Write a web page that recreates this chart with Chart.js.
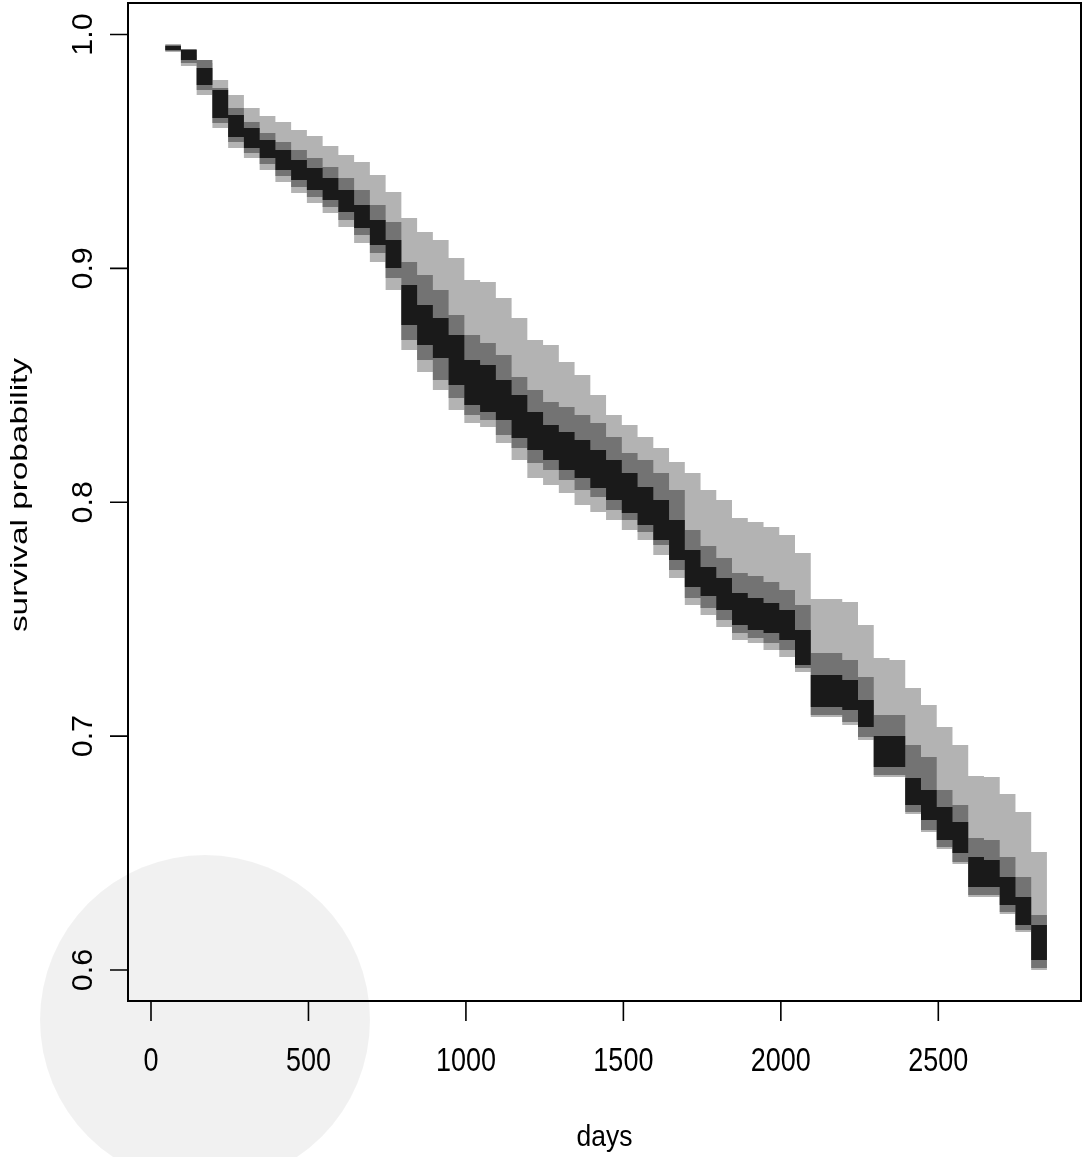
<!DOCTYPE html>
<html><head><meta charset="utf-8">
<script src="https://cdn.jsdelivr.net/npm/chart.js@4.4.0/dist/chart.umd.min.js"></script>
<style>html,body{margin:0;padding:0;background:#fff;}canvas{display:block;}</style>
</head><body>
<canvas id="c" width="1083" height="1157" style="width:1083px;height:1157px"></canvas>
<script>
// ---- data ----
const days = [45,95,145,195,245,295,345,395,445,495,545,595,645,695,745,795,845,895,945,995,
  1045,1095,1145,1195,1245,1295,1345,1395,1445,1495,1545,1595,1645,1695,1745,1795,1845,1895,1945,1995,
  2045,2095,2145,2195,2245,2295,2345,2395,2445,2495,2545,2595,2645,2695,2745,2795,2845];
const outerUpper = [0.9959,0.9912,0.9878,0.9805,0.9741,0.9686,0.9652,0.9626,0.9592,0.9566,0.9523,0.9485,0.9455,0.9399,0.9327,0.9215,0.9156,0.9121,0.9044,0.8950,
  0.8942,0.8873,0.8788,0.8694,0.8672,0.8600,0.8544,0.8459,0.8373,0.8330,0.8279,0.8232,0.8172,0.8125,0.8052,0.8010,0.7933,0.7916,0.7894,0.7860,
  0.7783,0.7586,0.7586,0.7574,0.7475,0.7334,0.7325,0.7206,0.7133,0.7039,0.6962,0.6830,0.6825,0.6753,0.6676,0.6505,0.5923];
const middleUpper = [0.9955,0.9938,0.9891,0.9771,0.9686,0.9626,0.9579,0.9540,0.9506,0.9472,0.9433,0.9386,0.9335,0.9271,0.9198,0.9027,0.8972,0.8908,0.8801,0.8715,
  0.8681,0.8630,0.8536,0.8480,0.8429,0.8407,0.8373,0.8339,0.8279,0.8211,0.8181,0.8125,0.8052,0.7881,0.7813,0.7762,0.7698,0.7685,0.7659,0.7625,
  0.7561,0.7355,0.7355,0.7325,0.7253,0.7090,0.7090,0.6962,0.6911,0.6770,0.6706,0.6564,0.6556,0.6483,0.6398,0.6235,0.5923];
const innerUpper = [0.9951,0.9934,0.9857,0.9763,0.9656,0.9600,0.9549,0.9506,0.9463,0.9429,0.9386,0.9335,0.9271,0.9207,0.9121,0.8929,0.8843,0.8788,0.8715,0.8608,
  0.8587,0.8523,0.8459,0.8386,0.8330,0.8300,0.8266,0.8223,0.8181,0.8125,0.8065,0.8010,0.7924,0.7796,0.7723,0.7676,0.7612,0.7591,0.7569,0.7539,
  0.7454,0.7261,0.7261,0.7240,0.7154,0.7001,0.7001,0.6821,0.6770,0.6697,0.6633,0.6483,0.6470,0.6398,0.6312,0.6192,0.5923];
const innerLower = [0.9934,0.9891,0.9784,0.9643,0.9562,0.9515,0.9472,0.9421,0.9378,0.9335,0.9292,0.9241,0.9173,0.9100,0.9002,0.8758,0.8672,0.8617,0.8501,0.8416,
  0.8386,0.8352,0.8275,0.8223,0.8181,0.8138,0.8104,0.8061,0.8010,0.7954,0.7903,0.7839,0.7753,0.7638,0.7599,0.7539,0.7475,0.7454,0.7441,0.7411,
  0.7304,0.7125,0.7125,0.7112,0.7039,0.6868,0.6868,0.6706,0.6641,0.6556,0.6500,0.6355,0.6355,0.6278,0.6192,0.6043,0.5923];
const middleLower = [0.9929,0.9878,0.9763,0.9622,0.9540,0.9493,0.9446,0.9395,0.9348,0.9305,0.9262,0.9207,0.9143,0.9066,0.8959,0.8694,0.8608,0.8523,0.8446,0.8373,
  0.8352,0.8288,0.8232,0.8168,0.8138,0.8095,0.8052,0.8022,0.7967,0.7924,0.7873,0.7817,0.7710,0.7591,0.7548,0.7497,0.7441,0.7420,0.7398,0.7368,
  0.7291,0.7090,0.7090,0.7060,0.6996,0.6834,0.6834,0.6676,0.6599,0.6526,0.6462,0.6321,0.6321,0.6248,0.6171,0.6009,0.5923];
const outerLower = [0.9925,0.9865,0.9741,0.9600,0.9515,0.9472,0.9421,0.9369,0.9322,0.9280,0.9237,0.9177,0.9109,0.9027,0.8908,0.8651,0.8557,0.8480,0.8394,0.8339,
  0.8322,0.8253,0.8181,0.8104,0.8074,0.8040,0.7988,0.7958,0.7924,0.7881,0.7839,0.7774,0.7676,0.7561,0.7518,0.7467,0.7411,0.7398,0.7368,0.7338,
  0.7274,0.7082,0.7082,0.7048,0.6983,0.6825,0.6825,0.6667,0.6590,0.6517,0.6453,0.6312,0.6312,0.6239,0.6162,0.6000,0.5923];
const xTicks = [0,500,1000,1500,2000,2500];
const xTickLabels = ['0','500','1000','1500','2000','2500'];
const yTicks = [0.6,0.7,0.8,0.9,1.0];
const yTickLabels = ['0.6','0.7','0.8','0.9','1.0'];
const xTitle = 'days';
const yTitle = 'survival probability';

// ---- helpers ----
const FONT = '"Liberation Sans", Arial, Helvetica, sans-serif';
function pts(arr){ return days.map((d,i)=>({x:d, y:arr[i]})); }
function band(upper, lower, color){
  return [
    {data: pts(upper), fill: '+1', backgroundColor: color, borderColor: 'rgba(0,0,0,0)', borderWidth: 0, pointRadius: 0, stepped: 'before'},
    {data: pts(lower), fill: false, backgroundColor: color, borderColor: 'rgba(0,0,0,0)', borderWidth: 0, pointRadius: 0, stepped: 'before'}
  ];
}
function txt(ctx, s, x, y, size, sAlong, sAcross, rot, align){
  ctx.save();
  ctx.translate(x, y);
  if (rot) ctx.rotate(rot);
  ctx.scale(sAlong, sAcross);
  ctx.font = size + 'px ' + FONT;
  ctx.fillStyle = '#000';
  ctx.textAlign = align || 'center';
  ctx.textBaseline = 'alphabetic';
  ctx.fillText(s, 0, 0);
  ctx.restore();
}

const watermark = {
  id: 'watermark',
  afterDraw(chart){
    const ctx = chart.ctx;
    ctx.save();
    ctx.beginPath();
    ctx.arc(205, 1020, 165, 0, Math.PI*2);
    ctx.fillStyle = 'rgba(0,0,0,0.055)';
    ctx.fill();
    ctx.restore();
  }
};

const rAxes = {
  id: 'rAxes',
  afterDraw(chart){
    const ctx = chart.ctx, a = chart.chartArea;
    const xs = chart.scales.x, ys = chart.scales.y;
    ctx.save();
    ctx.strokeStyle = '#000';
    ctx.lineWidth = 2;
    ctx.strokeRect(a.left, a.top, a.right - a.left, a.bottom - a.top);
    ctx.lineWidth = 1.6;
    ctx.beginPath();
    const x0 = xs.getPixelForValue(xTicks[0]), x1 = xs.getPixelForValue(xTicks[xTicks.length-1]);
    ctx.moveTo(x0, a.bottom); ctx.lineTo(x1, a.bottom);
    xTicks.forEach(v => { const px = xs.getPixelForValue(v); ctx.moveTo(px, a.bottom); ctx.lineTo(px, a.bottom + 20); });
    const y0 = ys.getPixelForValue(yTicks[0]), y1 = ys.getPixelForValue(yTicks[yTicks.length-1]);
    ctx.moveTo(a.left, y0); ctx.lineTo(a.left, y1);
    yTicks.forEach(v => { const py = ys.getPixelForValue(v); ctx.moveTo(a.left, py); ctx.lineTo(a.left - 18, py); });
    ctx.stroke();
    ctx.restore();
    xTicks.forEach((v,i) => txt(ctx, xTickLabels[i], xs.getPixelForValue(v), 1071, 27, 1, 1.2, 0));
    yTicks.forEach((v,i) => txt(ctx, yTickLabels[i], 91.5, ys.getPixelForValue(v), 29, 1.05, 1, -Math.PI/2));
    txt(ctx, xTitle, (a.left + a.right)/2, 1146, 26.5, 1, 1.13, 0);
    txt(ctx, yTitle, 27, 495, 24.5, 1.36, 1, -Math.PI/2);
  }
};

new Chart(document.getElementById('c'), {
  type: 'line',
  data: {
    datasets: [].concat(
      band(innerUpper, innerLower, '#1a1a1a'),
      band(middleUpper, middleLower, '#737373'),
      band(outerUpper, outerLower, '#b3b3b3')
    )
  },
  options: {
    responsive: false,
    devicePixelRatio: 1,
    animation: false,
    events: [],
    layout: { padding: { left: 128, top: 3, right: 2, bottom: 156 } },
    plugins: { legend: { display: false }, tooltip: { enabled: false }, filler: { propagate: false } },
    scales: {
      x: { type: 'linear', min: -73.03, max: 2953.1, display: false },
      y: { type: 'linear', min: 0.58675, max: 1.01347, display: false }
    }
  },
  plugins: [watermark, rAxes]
});
</script>
</body></html>
